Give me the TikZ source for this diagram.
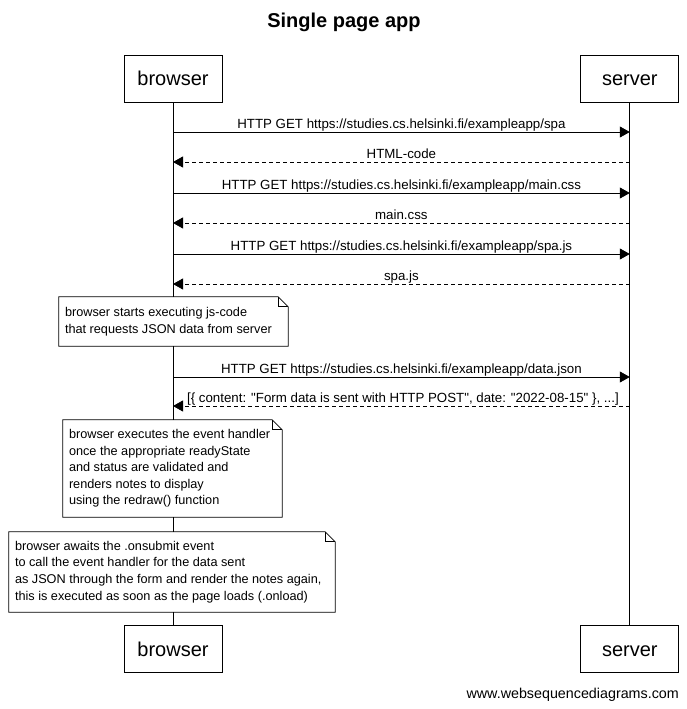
\documentclass[tikz,border=0pt]{standalone}
\usepackage{fontspec}
\setmainfont{Liberation Sans}
\usetikzlibrary{arrows.meta,positioning}
\tikzset{
  actor/.style={draw, line width=0.8pt, minimum width=98pt, minimum height=47pt, inner sep=0pt,
    text height=16.5pt, text depth=2.2pt, font=\fontsize{20}{24}\selectfont},
  life/.style={line width=0.8pt},
  msg/.style={line width=0.8pt, -{Triangle[length=10pt,width=11pt]}},
  reply/.style={msg, dash pattern=on 4pt off 3pt},
  lbl/.style={anchor=base, yshift=4pt, inner sep=0pt, font=\fontsize{13.3}{15}\selectfont},
  note/.style={fill=white, align=flush left, inner xsep=6pt, inner ysep=0pt, font=\fontsize{12.7}{16.6}\selectfont}
}
\newcommand{\notefold}[1]{%
  \draw[line width=0.8pt] (#1.south west) -- (#1.south east) -- ([yshift=-10pt]#1.north east)
    -- ([xshift=-10pt]#1.north east) -- (#1.north west) -- cycle;
  \draw[line width=0.8pt] ([xshift=-10pt]#1.north east) |- ([yshift=-10pt]#1.north east);}
\begin{document}
\begin{tikzpicture}[x=1pt,y=1pt]
\useasboundingbox (0,0) rectangle (687,-709);
\node[font=\bfseries\fontsize{20}{24}\selectfont] (title) at (344,-22) {Single page app};
% participants
\node[actor] (btop) at (173,-78.5) {browser};
\node[actor] (stop) [right=358pt of btop] {server};
\node[actor] (bbot) [below=523pt of btop] {browser};
\node[actor] (sbot) [below=523pt of stop] {server};
\draw[life] (btop) -- (bbot);
\draw[life] (stop) -- (sbot);
% message levels
\coordinate (m1) at (0,-132);
\coordinate (m2) at (0,-162);
\coordinate (m3) at (0,-193);
\coordinate (m4) at (0,-223);
\coordinate (m5) at (0,-254);
\coordinate (m6) at (0,-284);
\coordinate (m7) at (0,-377);
\coordinate (m8) at (0,-406);
\draw[msg] (btop |- m1) -- (stop |- m1) node[lbl, midway] {HTTP GET https://studies.cs.helsinki.fi/exampleapp/spa};
\draw[reply] (stop |- m2) -- (btop |- m2) node[lbl, midway] {HTML-code};
\draw[msg] (btop |- m3) -- (stop |- m3) node[lbl, midway] {HTTP GET https://studies.cs.helsinki.fi/exampleapp/main.css};
\draw[reply] (stop |- m4) -- (btop |- m4) node[lbl, midway] {main.css};
\draw[msg] (btop |- m5) -- (stop |- m5) node[lbl, midway] {HTTP GET https://studies.cs.helsinki.fi/exampleapp/spa.js};
\draw[reply] (stop |- m6) -- (btop |- m6) node[lbl, midway] {spa.js};
\node[note, minimum width=229pt, minimum height=49pt, text width=217pt] (n1) at (173.5,-321.5)
  {browser starts executing js-code\\that requests JSON data from server};
\notefold{n1}
\draw[msg] (btop |- m7) -- (stop |- m7) node[lbl, midway] {HTTP GET https://studies.cs.helsinki.fi/exampleapp/data.json};
\draw[reply] (stop |- m8) -- (btop |- m8) node[lbl, midway, xshift=1.5pt]
  {[\{ content: \textquotedbl Form data is sent with HTTP POST\textquotedbl, date: \textquotedbl 2022-08-15\textquotedbl{} \}, ...]};
\node[note, minimum width=219pt, minimum height=97pt, text width=207pt] (n2) at (172.5,-468.5)
  {browser executes the event handler\\once the appropriate readyState\\and status are validated and\\renders notes to display\\using the redraw() function};
\notefold{n2}
\node[note, minimum width=326pt, minimum height=80pt, text width=314pt] (n3) at (172,-572)
  {browser awaits the .onsubmit event\\to call the event handler for the data sent\\as JSON through the form and render the notes again,\\this is executed as soon as the page loads (.onload)};
\notefold{n3}
\node[anchor=base east, inner sep=0pt, font=\fontsize{14.3}{16}\selectfont] (credit) at (679,-698) {www.websequencediagrams.com};
\end{tikzpicture}
\end{document}
